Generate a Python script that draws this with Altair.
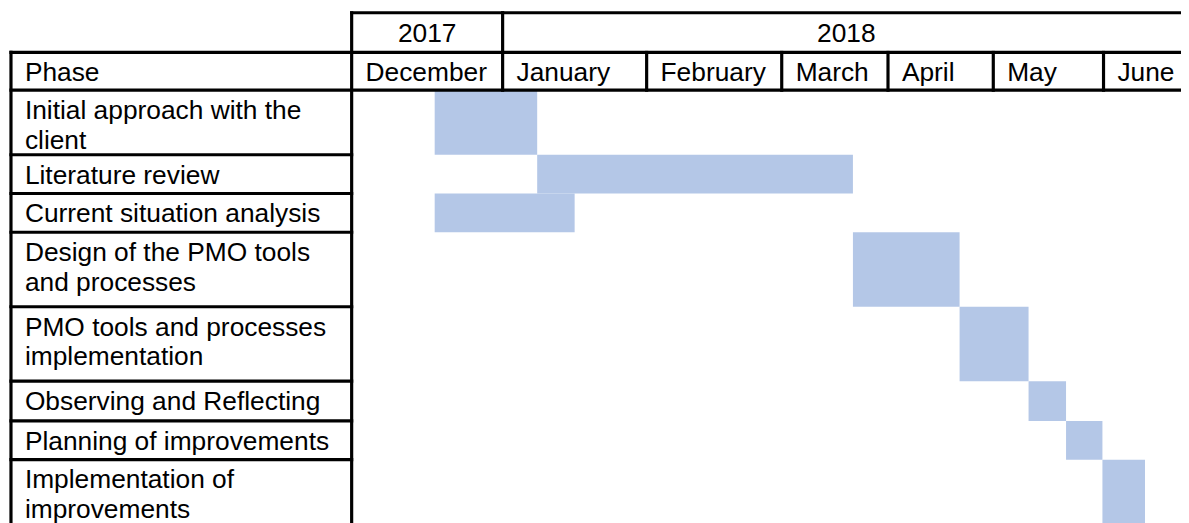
import altair as alt
import pandas as pd
import numpy as np

# ---------------- data ----------------
YEARS = ["2017", "2018"]
YEAR_FIRST_MONTH = [0, 1]      # month index where the year cell starts
YEAR_LAST_MONTH = [1, 7]       # month index where the year cell ends
MONTHS = ["December", "January", "February", "March", "April", "May", "June"]
PHASE_HEADER = "Phase"
PHASES = [
    "Initial approach with the\nclient",
    "Literature review",
    "Current situation analysis",
    "Design of the PMO tools\nand processes",
    "PMO tools and processes\nimplementation",
    "Observing and Reflecting",
    "Planning of improvements",
    "Implementation of\nimprovements",
]
# start / end of each phase, in months since 1 December 2017 (fractional)
START = [0.55, 1.24, 0.55, 3.67, 4.68, 5.32, 5.66, 5.99]
END = [1.24, 3.67, 1.50, 4.68, 5.32, 5.66, 5.99, 6.48]

# ---------------- layout (scale configuration) ----------------
# x units: -1..0 = phase column, 0..7 = months (Dec..Jun)
X_DOMAIN = [-1, 0, 1, 2, 3, 4, 5, 6, 7]
X_RANGE = [3, 346, 498, 643, 779, 886, 992, 1103, 1190]
# y units: -2..-1 = year row, -1..0 = month row, 0..8 = phase rows
Y_DOMAIN = list(range(-2, 9))
Y_RANGE = [3, 43, 81, 146, 185, 224, 299, 374, 414, 453, 518]

FONT = "Liberation Sans"
FS = 26.5
BAR = "#B4C7E7"

xs = alt.Scale(domain=X_DOMAIN, range=X_RANGE, nice=False, zero=False)
ys = alt.Scale(domain=Y_DOMAIN, range=Y_RANGE, nice=False, zero=False)

def X(f):
    return alt.X(f, type="quantitative", scale=xs, axis=None)

def Y(f):
    return alt.Y(f, type="quantitative", scale=ys, axis=None)

# bars
bars_df = pd.DataFrame({
    "phase": [p.replace("\n", " ") for p in PHASES],
    "start": START,
    "end": END,
    "row": list(range(len(PHASES))),
})
bars_df["row2"] = bars_df["row"] + 1

bars = alt.Chart(bars_df).mark_rect(color=BAR, opacity=1).encode(
    x=X("start"), x2="end", y=Y("row"), y2="row2"
)

# table borders
segs = []
n = len(PHASES)
nm = len(MONTHS)
segs.append((0, nm, -2, -2))           # top of year row
segs.append((-1, nm, -1, -1))          # top of month row
segs.append((-1, nm, 0, 0))            # bottom of month row
for r in range(1, n):
    segs.append((-1, 0, r, r))         # phase cell separators
segs.append((-1, -1, -1, n))           # left edge
segs.append((0, 0, -2, n))             # phase column right edge
for yi, (a, b) in enumerate(zip(YEAR_FIRST_MONTH, YEAR_LAST_MONTH)):
    segs.append((b, b, -2, 0))         # year cell edges
for m in range(1, nm):
    if m not in YEAR_LAST_MONTH:
        segs.append((m, m, -1, 0))     # month cell edges
seg_df = pd.DataFrame(segs, columns=["x1", "x2", "y1", "y2"])
rules = alt.Chart(seg_df).mark_rule(color="black", strokeWidth=3.2, strokeCap="square").encode(
    x=X("x1"), x2="x2", y=Y("y1"), y2="y2"
)

# year labels centred in their cells (pixel midpoint mapped back through the scale)
mids = []
for a, b in zip(YEAR_FIRST_MONTH, YEAR_LAST_MONTH):
    pa = np.interp(a, X_DOMAIN, X_RANGE)
    pb = np.interp(b, X_DOMAIN, X_RANGE)
    mids.append(float(np.interp((pa + pb) / 2, X_RANGE, X_DOMAIN)))
year_df = pd.DataFrame({"label": YEARS, "x": mids, "y": [-2] * len(YEARS)})
year_text = alt.Chart(year_df).mark_text(
    font=FONT, fontSize=FS, align="center", baseline="alphabetic", dy=29, color="black"
).encode(x=X("x"), y=Y("y"), text="label:N")

month_df = pd.DataFrame({"label": [PHASE_HEADER] + MONTHS,
                         "x": [-1] + list(range(nm)),
                         "y": [-1] * (nm + 1)})
month_text = alt.Chart(month_df).mark_text(
    font=FONT, fontSize=FS, align="left", baseline="alphabetic", dx=14, dy=29, color="black"
).encode(x=X("x"), y=Y("y"), text="label:N")

phase_df = pd.DataFrame({"label": PHASES, "x": [-1] * n, "y": list(range(n))})
phase_text = alt.Chart(phase_df).mark_text(
    font=FONT, fontSize=FS, align="left", baseline="alphabetic", dx=14, dy=29,
    lineBreak="\n", lineHeight=30, color="black"
).encode(x=X("x"), y=Y("y"), text="label:N")

chart = alt.layer(bars, rules, year_text, month_text, phase_text).properties(
    width=1181, height=515, padding=0, autosize=alt.AutoSizeParams(type="none"),
    background="white",
).configure_view(stroke=None)

chart.save("out.html", embed_options={"renderer": "svg", "actions": False})
